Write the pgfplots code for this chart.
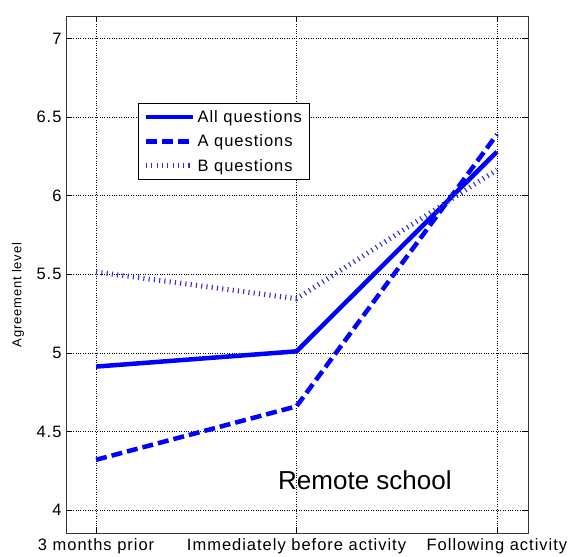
\documentclass[border=0pt]{standalone}
\usepackage{fontspec}
\setmainfont{Liberation Sans}[LetterSpace=6]
\usepackage{pgfplots}
\pgfplotsset{compat=1.18}
\definecolor{bdot}{rgb}{0.18,0.18,0.82}
\begin{document}
\begin{tikzpicture}
\useasboundingbox (-66pt,-23pt) rectangle (503pt,533pt);
\begin{axis}[
 scale only axis, width=462pt, height=517pt,
 xmin=0.85, xmax=3.155, ymin=3.854, ymax=7.144,
 xtick={1,2,3},
 xticklabels={3 months prior, Immediately before activity, Following activity},
 ytick={4,4.5,5,5.5,6,6.5,7},
 yticklabels={4,4.5,5,5.5,6,6.5,7},
 grid=major,
 major grid style={black, dotted, line width=0.6pt},
 tick align=inside, major tick length=6pt,
 tick style={black, line width=0.7pt},
 axis line style={black!80, line width=0.9pt},
 ticklabel style={font=\fontsize{16.5}{19}\selectfont},
 /pgf/number format/assume math mode=true,
 xticklabel style={yshift=-2pt},
 yticklabel style={xshift=-1pt},
 legend style={at={(rel axis cs:0.156,0.832)}, anchor=north west, draw=black, line width=0.9pt,
   font=\fontsize{16.5}{19}\selectfont, row sep=7pt, inner xsep=5pt, inner ysep=5pt},
 legend cell align=left,
 legend image code/.code={\draw[#1] (0pt,0pt) -- (47pt,0pt);},
]
\addplot[blue, line width=4.5pt, line join=miter] coordinates {(1,4.913) (2,5.01) (3,6.28)};
\addlegendentry{All questions}
\addplot[blue, line width=4.5pt, dash pattern=on 11pt off 5pt] coordinates {(1,4.32) (2,4.66) (3,6.39)};
\addlegendentry{A questions}
\addplot[bdot, line width=5pt, dash pattern=on 1.1pt off 4.2pt] coordinates {(1,5.515) (2,5.345) (3,6.165)};
\addlegendentry{B questions}
\node[font=\fontsize{26}{30}\selectfont\addfontfeature{LetterSpace=0}] at (rel axis cs:0.647,0.1025) {Remote school};
\end{axis}
\node[rotate=90, font=\fontsize{13}{15}\selectfont] at (-48pt,238pt) {Agreement level};
\end{tikzpicture}
\end{document}
